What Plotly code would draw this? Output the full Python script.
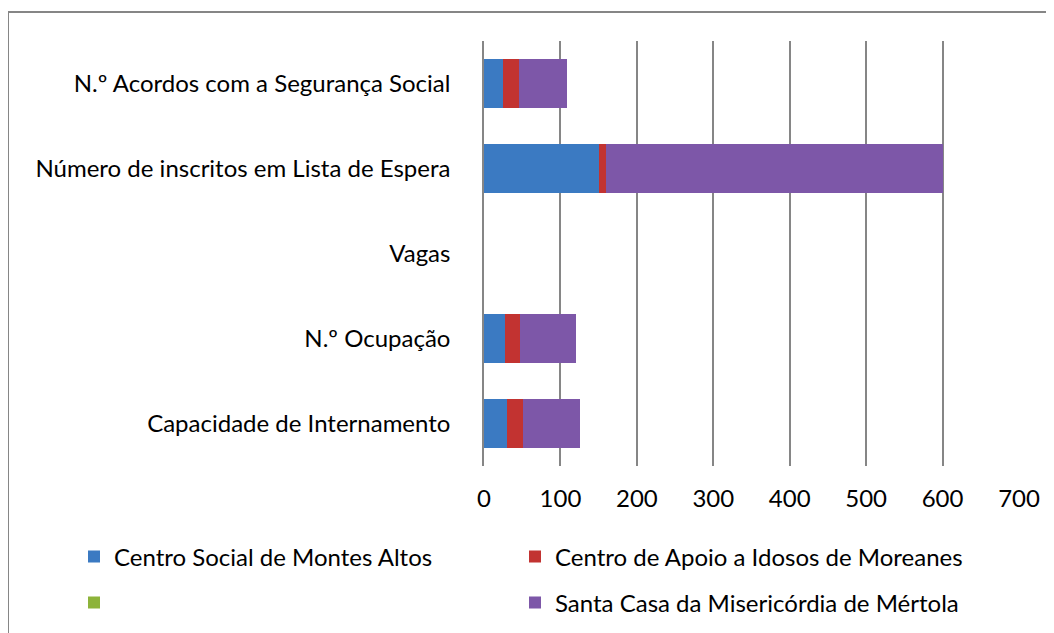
import plotly.graph_objects as go

# categories (bottom to top)
categorias = ['Capacidade de Internamento', 'N.º Ocupação', 'Vagas',
              'Número de inscritos em Lista de Espera', 'N.º Acordos com a Segurança Social']

# values, one list per institution
montes_altos = [30, 27, 0, 150, 25]
moreanes = [21, 20, 0, 10, 21]
sem_nome = [0, 0, 0, 0, 0]
mertola = [75, 74, 0, 440, 62]

nomes = ['Centro Social de Montes Altos', 'Centro de Apoio a Idosos de Moreanes',
         ' ', 'Santa Casa da Misericórdia de Mértola']
valores = [montes_altos, moreanes, sem_nome, mertola]
cores = ['#3B7AC2', '#C23331', '#8DB33A', '#7D57A8']

x_ticks = [0, 100, 200, 300, 400, 500, 600, 700]

# plot area in figure pixels: left 476, width 535, top 33, height 425
px_x = lambda p: (p - 476) / 535
px_y = lambda p: (458 - p) / 425

fig = go.Figure()
legendas = {}
for i, (nome, vals, cor) in enumerate(zip(nomes, valores, cores)):
    leg = 'legend' if i == 0 else f'legend{i + 1}'
    fig.add_trace(go.Bar(y=categorias, x=vals, name=nome, orientation='h', legend=leg,
                         showlegend=True, marker=dict(color=cor, line=dict(width=0))))
    # 2x2 legend grid, one legend per entry
    col, row = i % 2, i // 2
    legendas[leg] = dict(x=px_x(66 + col * 441), xanchor='left', y=px_y(549 + row * 46),
                         yanchor='middle', font=dict(size=24), bgcolor='rgba(0,0,0,0)')

# outer chart border (only top and left edges visible)
fig.add_shape(type='line', xref='paper', yref='paper', x0=px_x(0), x1=px_x(1054),
              y0=px_y(4), y1=px_y(4), line=dict(color='#868686', width=2))
fig.add_shape(type='line', xref='paper', yref='paper', x0=px_x(0), x1=px_x(0),
              y0=px_y(4), y1=px_y(640), line=dict(color='#868686', width=2))

fig.update_layout(
    barmode='stack',
    bargap=0.42,
    showlegend=True,
    width=1054, height=633,
    margin=dict(l=476, r=43, t=33, b=175),
    plot_bgcolor='white', paper_bgcolor='white',
    font=dict(family='Lato, sans-serif', size=24, color='black'),
    xaxis=dict(range=[0, 700], tickvals=x_ticks, showgrid=True, gridcolor='#868686', gridwidth=1.5,
               zeroline=False, showline=False, ticks='', ticklabelstandoff=16),
    yaxis=dict(showgrid=False, showline=True, linecolor='#868686', linewidth=1.5, ticks='',
               ticklabelstandoff=27),
    **legendas,
)

fig.write_html("out.html")
